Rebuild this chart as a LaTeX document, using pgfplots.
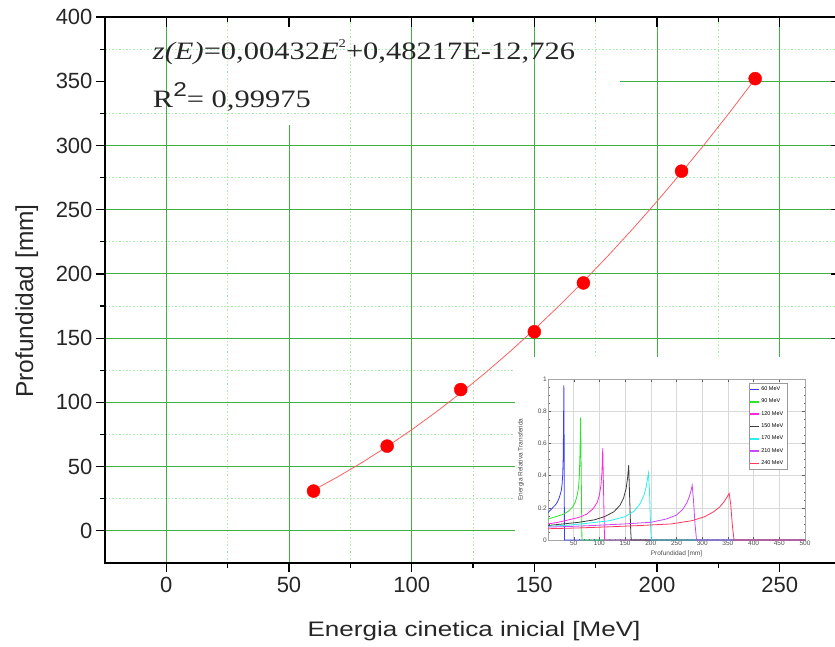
\documentclass[border=0pt]{standalone}
\usepackage{fontspec}
\setmainfont{Liberation Sans}
\newfontfamily\timesfont{Liberation Serif}
\usepackage{pgfplots}
\pgfplotsset{compat=1.18}

\definecolor{majgreen}{RGB}{65,178,65}
\definecolor{mingreen}{RGB}{170,238,170}
\definecolor{fitred}{RGB}{255,95,95}
\definecolor{cBlue}{RGB}{60,60,255}
\definecolor{cGreen}{RGB}{40,230,40}
\definecolor{cMag}{RGB}{255,40,220}
\definecolor{cBlack}{RGB}{60,60,60}
\definecolor{cCyan}{RGB}{40,240,240}
\definecolor{cVio}{RGB}{205,70,250}
\definecolor{cRed}{RGB}{255,55,90}

\begin{document}
\begin{tikzpicture}[x=1pt,y=1pt]
\path[use as bounding box] (0,0) rectangle (835,646);

% main plot: range vs. initial kinetic energy
\begin{axis}[
  at={(105pt,83pt)}, anchor=south west, scale only axis,
  width=736pt, height=546pt,
  xmin=-25, xmax=275, ymin=-25, ymax=400,
  xtick={0,50,100,150,200,250}, ytick={0,50,100,150,200,250,300,350,400},
  minor tick num=1,
  xtick pos=left, ytick pos=left, tick align=outside,
  major tick length=9pt, minor tick length=5pt,
  axis line style={line width=1.6pt},
  every tick/.style={black, line width=1.2pt},
  xminorgrids=true, yminorgrids=true,
  minor grid style={mingreen, line width=0.7pt, dash pattern=on 1.5pt off 2pt},
  ticklabel style={font=\fontsize{22}{22}\selectfont, text=black!85},
  xticklabel style={yshift=-2pt},
  /pgf/number format/assume math mode=true,
]
% major grid lines
\draw[majgreen, line width=1pt] (axis cs:0,-25) -- (axis cs:0,400);
\draw[majgreen, line width=1pt] (axis cs:50,-25) -- (axis cs:50,316);
\draw[majgreen, line width=1pt] (axis cs:100,-25) -- (axis cs:100,400);
\draw[majgreen, line width=1pt] (axis cs:150,-25) -- (axis cs:150,400);
\draw[majgreen, line width=1pt] (axis cs:200,-25) -- (axis cs:200,400);
\draw[majgreen, line width=1pt] (axis cs:250,-25) -- (axis cs:250,400);
\draw[majgreen, line width=1pt] (axis cs:-25,0) -- (axis cs:275,0);
\draw[majgreen, line width=1pt] (axis cs:-25,50) -- (axis cs:275,50);
\draw[majgreen, line width=1pt] (axis cs:-25,100) -- (axis cs:275,100);
\draw[majgreen, line width=1pt] (axis cs:-25,150) -- (axis cs:275,150);
\draw[majgreen, line width=1pt] (axis cs:-25,200) -- (axis cs:275,200);
\draw[majgreen, line width=1pt] (axis cs:-25,250) -- (axis cs:275,250);
\draw[majgreen, line width=1pt] (axis cs:-25,300) -- (axis cs:275,300);
\draw[majgreen, line width=1pt] (axis cs:185,350) -- (axis cs:275,350);

% quadratic fit z(E)
\addplot[fitred, line width=0.8pt, no marks] coordinates {
  (60,31.756) (70,42.194) (80,53.496) (90,65.661) (100,78.691)
  (110,92.585) (120,107.342) (130,122.964) (140,139.450) (150,156.800)
  (160,175.013) (170,194.091) (180,214.033) (190,234.838) (200,256.508)
  (210,279.042) (220,302.439) (230,326.701) (240,351.827)
};
% measured depths
\addplot[only marks, mark=*, mark size=6.5pt, mark options={draw=red, fill=red}] coordinates {
  (60,31) (90,66) (120,110) (150,155) (170,193) (210,280) (240,352)
};
\end{axis}

% inward ticks on top and right
\begin{axis}[
  at={(105pt,83pt)}, anchor=south west, scale only axis,
  width=736pt, height=546pt,
  xmin=-25, xmax=275, ymin=-25, ymax=400,
  xtick={0,50,100,150,200,250}, ytick={0,50,100,150,200,250,300,350,400},
  minor tick num=1,
  xtick pos=right, ytick pos=right, tick align=inside,
  major tick length=10pt, minor tick length=5pt,
  axis line style={line width=1.6pt},
  every tick/.style={black, line width=1.2pt},
  xticklabels={}, yticklabels={},
]
\end{axis}

% fit equation
\node[anchor=base west, xscale=1.22, text=black!85, inner sep=0pt] at (152.7,586)
  {\timesfont\fontsize{25}{25}\selectfont \textit{z(E)}=0,00432\textit{E}\raisebox{0.5em}{\fontsize{12}{12}\selectfont 2}+0,48217E-12,726};
\node[anchor=base west, xscale=1.22, text=black!85, inner sep=0pt] at (152.7,538)
  {\timesfont\fontsize{25}{25}\selectfont R\raisebox{0.45em}{\fontsize{20}{20}\selectfont\rmfamily 2}= 0,99975};

% axis titles
\node[anchor=base, xscale=1.24, text=black!85, inner sep=0pt] at (474,9.5)
  {\fontsize{21}{21}\selectfont Energia cinetica inicial [MeV]};
\node[rotate=90, anchor=base, text=black!85, inner sep=0pt] at (33,345)
  {\fontsize{24.5}{24.5}\selectfont Profundidad [mm]};

% inset panel background
\fill[white] (515,84.2) rectangle (835,289);

% inset: Bragg curves
\begin{axis}[
  at={(548pt,106pt)}, anchor=south west, scale only axis,
  width=257pt, height=161pt,
  xmin=0, xmax=500, ymin=0, ymax=1,
  xtick={50,100,150,200,250,300,350,400,450,500},
  ytick={0,0.2,0.4,0.6,0.8,1},
  minor x tick num=4, minor y tick num=3,
  tick align=inside, major tick length=3pt, minor tick length=1.5pt,
  every tick/.style={gray!70!black, line width=0.4pt},
  axis line style={gray!70, line width=0.6pt},
  grid=major, major grid style={gray!30, line width=0.6pt},
  ticklabel style={font=\fontsize{6.5}{6.5}\selectfont, text=black!70, inner sep=1pt},
  /pgf/number format/assume math mode=true,
  xlabel={Profundidad [mm]}, ylabel={Energia Relativa Transferida},
  label style={font=\fontsize{6.5}{6.5}\selectfont, text=black!70},
  ylabel style={at={(axis description cs:-0.08,0.5)}, anchor=south},
  legend style={at={(rel axis cs:0.93,0.975)}, anchor=north east,
    font=\fontsize{5.5}{6}\selectfont, draw=gray!80, fill=white,
    inner sep=1.5pt, row sep=3pt},
  legend cell align=left,
  legend image code/.code={\fill[#1, draw=none] (0pt,-0.8pt) rectangle (9pt,0.8pt);},
  every axis plot/.append style={line width=0.8pt, no marks},
]
\addplot[color=cBlue] coordinates {(0,0.17) (3,0.18) (6,0.19) (9,0.20) (12,0.21) (15,0.22) (18,0.235) (21,0.255) (24,0.285) (26,0.31) (27.5,0.35) (28.5,0.40) (29.5,0.5) (30.2,0.7) (30.8,0.96) (31.4,0.6) (32,0) (500,0)};
\addlegendentry{60 MeV}
\addplot[color=cGreen] coordinates {(0,0.13) (10,0.14) (20,0.15) (30,0.16) (40,0.18) (48,0.205) (53,0.235) (57,0.28) (59.5,0.33) (61,0.4) (62.3,0.55) (63.5,0.76) (64.5,0.45) (66,0) (500,0)};
\addlegendentry{90 MeV}
\addplot[color=cMag] coordinates {(0,0.10) (20,0.11) (40,0.125) (60,0.14) (75,0.16) (88,0.195) (96,0.235) (100,0.28) (103,0.34) (105,0.42) (106.5,0.57) (107.8,0.35) (110,0) (500,0)};
\addlegendentry{120 MeV}
\addplot[color=cBlack] coordinates {(0,0.09) (30,0.10) (60,0.11) (90,0.125) (110,0.145) (128,0.175) (140,0.215) (147,0.26) (152,0.32) (155,0.39) (157,0.465) (158.5,0.3) (161,0.05) (162,0) (500,0)};
\addlegendentry{150 MeV}
\addplot[color=cCyan] coordinates {(0,0.085) (40,0.092) (80,0.105) (120,0.12) (150,0.145) (168,0.18) (180,0.23) (187,0.28) (191,0.33) (194,0.39) (195.5,0.415) (197.5,0.3) (200,0.05) (201,0) (500,0)};
\addlegendentry{170 MeV}
\addplot[color=cVio] coordinates {(0,0.08) (50,0.085) (100,0.092) (150,0.1) (200,0.11) (230,0.13) (250,0.155) (262,0.19) (270,0.23) (275,0.27) (278.5,0.31) (280.5,0.34) (283,0.25) (286,0.1) (289,0) (500,0)};
\addlegendentry{210 MeV}
\addplot[color=cRed] coordinates {(0,0.07) (60,0.075) (120,0.082) (180,0.09) (240,0.1) (280,0.12) (305,0.145) (322,0.175) (334,0.205) (342,0.235) (348,0.265) (352.5,0.29) (355.5,0.22) (359,0.08) (362,0) (500,0)};
\addlegendentry{240 MeV}
\end{axis}
\end{tikzpicture}
\end{document}
